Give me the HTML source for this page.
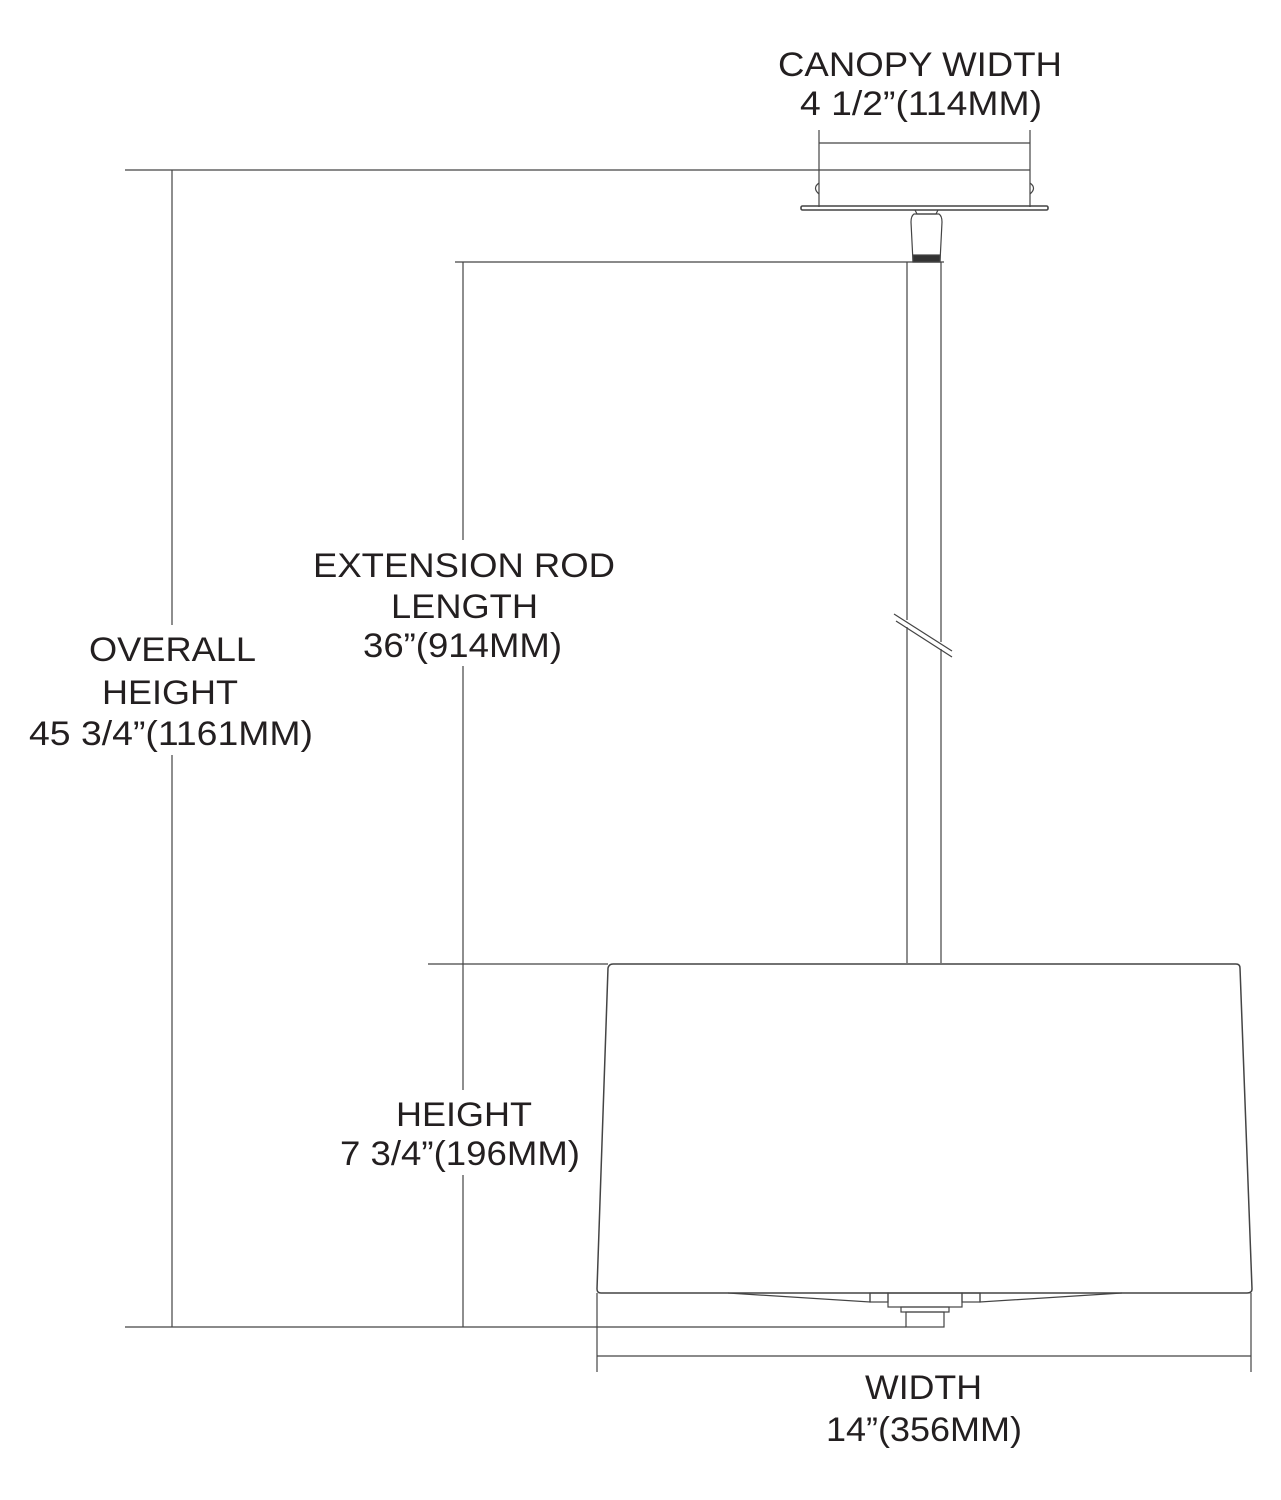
<!DOCTYPE html>
<html><head><meta charset="utf-8"><style>
html,body{margin:0;padding:0;background:#fff;}
svg{display:block;}
text{font-family:"Liberation Sans",Arial,sans-serif;font-size:34px;fill:#231f20;}
</style></head><body>
<svg width="1281" height="1500" viewBox="0 0 1281 1500" xmlns="http://www.w3.org/2000/svg">
<g stroke="#444" stroke-width="1.2" fill="none">
  <!-- canopy dims -->
  <line x1="819" y1="130" x2="819" y2="207"/>
  <line x1="1030" y1="130" x2="1030" y2="207"/>
  <line x1="819" y1="143" x2="1030" y2="143"/>
  <line x1="125" y1="170" x2="1030" y2="170"/>
  <!-- hooks -->
  <path d="M819 183 Q812 188 819 194"/>
  <path d="M1030 183 Q1037 188 1030 194"/>
  <!-- plate -->
  <rect x="801" y="206" width="247" height="4" rx="1.5" stroke-width="1.6"/>
  <!-- cap -->
  <path d="M915 210 L917 214 L936 214 L938 210"/>
  <path d="M914 214 Q911 216 911 222 L913 262 L940 262 L942 222 Q942 216 939 214 Z"/>
  <rect x="913" y="255" width="27" height="7" fill="#333"/>
  <!-- rod -->
  <line x1="455" y1="262" x2="944" y2="262"/>
  <line x1="907" y1="262" x2="907" y2="620"/>
  <line x1="907" y1="627" x2="907" y2="963"/>
  <line x1="941" y1="262" x2="941" y2="642"/>
  <line x1="941" y1="649" x2="941" y2="963"/>
  <line x1="894" y1="614" x2="952" y2="651"/>
  <line x1="896" y1="621" x2="952" y2="657"/>
  <!-- overall, extension dims -->
  <line x1="172" y1="170" x2="172" y2="1327"/>
  <line x1="463" y1="262" x2="463" y2="1327"/>
  <line x1="125" y1="1327" x2="906" y2="1327"/>
  <line x1="428" y1="964" x2="608" y2="964"/>
  <!-- shade -->
  <path d="M613 964 L1236 964 Q1240 964 1240 968 L1252 1289 Q1252 1293 1247 1293 L601 1293 Q597 1293 597 1289 L608 968 Q609 964 613 964 Z" stroke-width="1.5"/>
  <!-- bottom fittings -->
  <path d="M728 1293 L870 1302 L870 1293"/>
  <path d="M1122 1293 L980 1302 L980 1293"/>
  <rect x="870" y="1293" width="18" height="9"/>
  <rect x="962" y="1293" width="18" height="9"/>
  <rect x="888" y="1293" width="74" height="14"/>
  <rect x="901" y="1307" width="48" height="5"/>
  <rect x="906" y="1312" width="38" height="15"/>
  <!-- width dims -->
  <line x1="597" y1="1293" x2="597" y2="1372"/>
  <line x1="1251" y1="1293" x2="1251" y2="1372"/>
  <line x1="597" y1="1356" x2="1251" y2="1356"/>
</g>
<g fill="#fff">
  <rect x="25" y="625" width="292" height="130"/>
  <rect x="308" y="540" width="312" height="126"/>
  <rect x="335" y="1090" width="250" height="85"/>
</g>
<text x="778" y="76" textLength="284" lengthAdjust="spacingAndGlyphs">CANOPY WIDTH</text>
<text x="800" y="115" textLength="242" lengthAdjust="spacingAndGlyphs">4 1/2”(114MM)</text>
<text x="313" y="577" textLength="302" lengthAdjust="spacingAndGlyphs">EXTENSION ROD</text>
<text x="391" y="618" textLength="147" lengthAdjust="spacingAndGlyphs">LENGTH</text>
<text x="363" y="657" textLength="199" lengthAdjust="spacingAndGlyphs">36”(914MM)</text>
<text x="89" y="661" textLength="167" lengthAdjust="spacingAndGlyphs">OVERALL</text>
<text x="102" y="704" textLength="136" lengthAdjust="spacingAndGlyphs">HEIGHT</text>
<text x="29" y="745" textLength="284" lengthAdjust="spacingAndGlyphs">45 3/4”(1161MM)</text>
<text x="396" y="1126" textLength="136" lengthAdjust="spacingAndGlyphs">HEIGHT</text>
<text x="340" y="1165" textLength="240" lengthAdjust="spacingAndGlyphs">7 3/4”(196MM)</text>
<text x="865" y="1399" textLength="117" lengthAdjust="spacingAndGlyphs">WIDTH</text>
<text x="826" y="1441" textLength="196" lengthAdjust="spacingAndGlyphs">14”(356MM)</text>
</svg>
</body></html>
